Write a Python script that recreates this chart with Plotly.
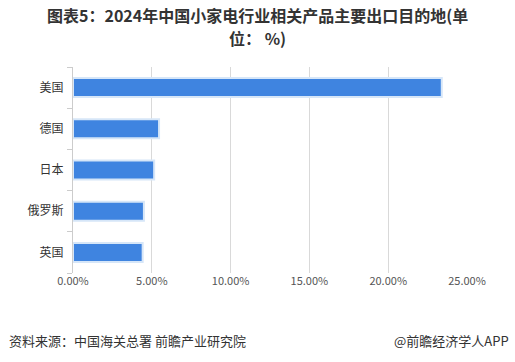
import plotly.graph_objects as go

countries = ["美国", "德国", "日本", "俄罗斯", "英国"]
shares = [23.4, 5.46, 5.15, 4.5, 4.42]
x_ticks = [0, 5, 10, 15, 20, 25]
x_tick_labels = ["0.00%", "5.00%", "10.00%", "15.00%", "20.00%", "25.00%"]

L, R, T, B = 73, 48, 67, 89
PW, PH = 515 - L - R, 362 - T - B

def px(x):
    return (x - L) / PW

def py(y):
    return (362 - B - y) / PH

fig = go.Figure()
fig.add_trace(go.Bar(
    y=countries, x=shares, orientation="h",
    marker=dict(color="#3f84e0", line=dict(color="#d6e6f8", width=2)),
    width=0.46,
))

fig.update_layout(
    width=515, height=362,
    margin=dict(l=L, r=R, t=T, b=B),
    paper_bgcolor="white", plot_bgcolor="white",
    showlegend=False,
    font=dict(family="Noto Sans CJK SC, sans-serif", color="#333"),
    xaxis=dict(
        range=[0, 25], tickvals=x_ticks, ticktext=x_tick_labels,
        showgrid=True, gridcolor="#d9d9d9", gridwidth=1,
        zeroline=False, showline=False, ticks="",
        tickfont=dict(size=11, color="#555"),
        automargin=False,
    ),
    yaxis=dict(
        categoryorder="array", categoryarray=countries[::-1],
        showline=True, linecolor="#cccccc", linewidth=1,
        ticks="outside", tickson="boundaries", ticklen=5, tickcolor="#cccccc",
        tickfont=dict(size=12, color="#333"),
        showgrid=False,
        ticklabelstandoff=6,
        automargin=False,
    ),
    bargap=0.5,
)

fig.add_annotation(text="<b>图表5：2024年中国小家电行业相关产品主要出口目的地(单</b>",
                   xref="paper", yref="paper", x=px(257), y=py(15),
                   xanchor="center", yanchor="middle", showarrow=False,
                   font=dict(size=16, color="#333"))
fig.add_annotation(text="<b>位： %)</b>",
                   xref="paper", yref="paper", x=px(257), y=py(38),
                   xanchor="center", yanchor="middle", showarrow=False,
                   font=dict(size=16, color="#333"))
fig.add_annotation(text="资料来源：中国海关总署 前瞻产业研究院", xref="paper", yref="paper",
                   x=px(7), y=py(340), xanchor="left", yanchor="middle",
                   showarrow=False, font=dict(size=13, color="#333"))
fig.add_annotation(text="@前瞻经济学人APP", xref="paper", yref="paper",
                   x=px(511), y=py(340), xanchor="right", yanchor="middle",
                   showarrow=False, font=dict(size=13, color="#333"))

fig.write_html("out.html", config={"displayModeBar": False},
               post_script="document.body.style.margin='0';document.body.style.padding='0';")
